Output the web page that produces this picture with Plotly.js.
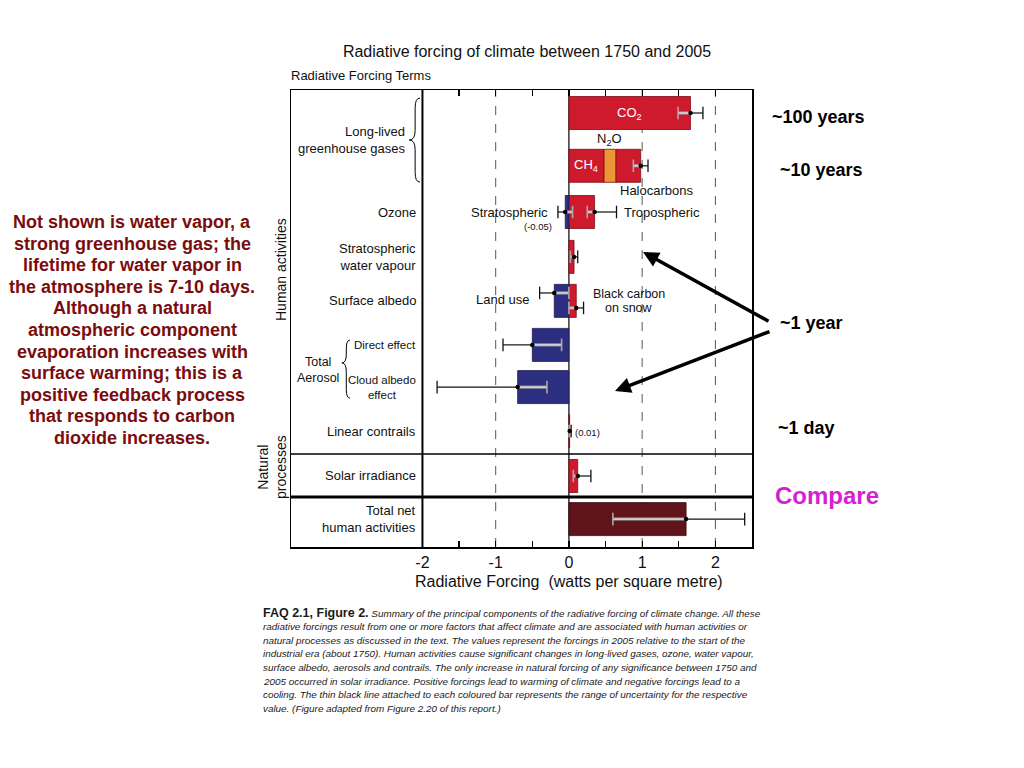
<!DOCTYPE html>
<html><head><meta charset="utf-8">
<script src="https://cdn.plot.ly/plotly-3.0.1.min.js"></script>
<style>html,body{margin:0;padding:0;background:#fff;}#chart{width:1024px;height:768px;}</style>
</head><body><div id="chart"></div>
<script>
// ================= DATA =================
const forcingTerms = ["CO<sub>2</sub>","CH<sub>4</sub>","N<sub>2</sub>O","Halocarbons","Stratospheric ozone","Tropospheric ozone","Stratospheric water vapour","Land use","Black carbon on snow","Aerosol direct effect","Cloud albedo effect","Linear contrails","Solar irradiance","Total net human activities"];
const forcingRow   = [0,1,1,1,2,2,3,4,4,5,6,7,8,9];
const forcingValue = [1.66,0.48,0.16,0.34,-0.05,0.35,0.07,-0.20,0.10,-0.50,-0.70,0.01,0.12,1.60];
const forcingKind  = ["warm","warm","n2o","warm","cool","warm","warm","cool","warm","cool","cool","warm","warm","net"];

const uncTerms = ["CO2","Halocarbons","Stratospheric ozone","Tropospheric ozone","Stratospheric water vapour","Land use","Black carbon on snow","Direct effect","Cloud albedo effect","Linear contrails","Solar irradiance","Total net"];
const uncRow   = [0,1,2,2,3,4,4,5,6,7,8,9];
const uncBest  = [1.66,0.98,-0.05,0.35,0.07,-0.20,0.10,-0.50,-0.70,0.01,0.12,1.60];
const uncLow   = [1.49,0.88,-0.15,0.25,0.02,-0.40,0.00,-0.90,-1.80,0.003,0.06,0.60];
const uncHigh  = [1.83,1.08,0.05,0.65,0.12,0.00,0.20,-0.10,-0.30,0.03,0.30,2.40];

const rowLabels = ["","","Ozone","Stratospheric<br>water vapour","Surface albedo","Direct effect","Cloud albedo<br>effect","Linear contrails","Solar irradiance","Total net<br>human activities"];
const xTickVals = [-2,-1.5,-1,-0.5,0,0.5,1,1.5,2,2.5];
const xTickText = ["-2","","-1","","0","","1","","2",""];

// ================= LAYOUT / STYLE =================
const ROW_Y  = [0,1.2,2.25,3.27,4.27,5.27,6.23,7.23,8.25,9.23];
const UNC_DY = [0,0,0,0,0,-0.18,0.16,0,0,0,0,0];
const ROW_FONT = [13,13,13,13,13,11.5,11.5,13,13,13];
const COL = {warm:'#cf1a2e', n2o:'#ec9533', cool:'#2c2f7f', net:'#5f141a'};
const OUT = {warm:'#7a0d16', n2o:'#7a0d16', cool:'#1a1c50', net:'#3a0a0e'};
const FONT = 'Liberation Sans, Arial, Helvetica, sans-serif';
const L=291, R=752, T=90, B=547;
function P(xp, yp){ return {x:(xp-L)/(R-L), y:(B-yp)/(B-T), xref:'paper', yref:'paper'}; }

// stacking bases
const posSum={}, negSum={};
const bases = forcingValue.map((v,i)=>{
  const r=forcingRow[i];
  if(v>=0){const b=posSum[r]||0; posSum[r]=b+v; return b;}
  const b=negSum[r]||0; negSum[r]=b+v; return b;
});

const traces = [];
["warm","n2o","cool","net"].forEach(k=>{
  const idx = forcingKind.map((kk,i)=>kk===k?i:-1).filter(i=>i>=0);
  traces.push({type:'bar', orientation:'h',
    x: idx.map(i=>forcingValue[i]), base: idx.map(i=>bases[i]),
    y: idx.map(i=>ROW_Y[forcingRow[i]]), text: idx.map(i=>forcingTerms[i]),
    width:0.75, marker:{color:COL[k], line:{color:OUT[k], width:0.8}},
    hoverinfo:'text+x', textposition:'none', showlegend:false});
});

// uncertainty ranges
const inn={x:[],y:[]}, out={x:[],y:[]}, capI={x:[],y:[]}, capO={x:[],y:[]}, dot={x:[],y:[]};
uncBest.forEach((b,i)=>{
  const yy = ROW_Y[uncRow[i]] + UNC_DY[i];
  const lo=uncLow[i], hi=uncHigh[i];
  let a1,a2,o1,o2,ci,co;
  if(b>=0){a1=lo;a2=b;o1=b;o2=hi;ci=lo;co=hi;} else {a1=b;a2=hi;o1=lo;o2=b;ci=hi;co=lo;}
  inn.x.push(a1,a2,null); inn.y.push(yy,yy,null);
  out.x.push(o1,o2,null); out.y.push(yy,yy,null);
  capI.x.push(ci); capI.y.push(yy);
  capO.x.push(co); capO.y.push(yy);
  dot.x.push(b); dot.y.push(yy);
});
traces.push({type:'scatter', mode:'lines', x:inn.x, y:inn.y, line:{color:'#a9a9a9', width:3}, hoverinfo:'skip', showlegend:false});
traces.push({type:'scatter', mode:'lines', x:inn.x, y:inn.y, line:{color:'#e6e6e6', width:1}, hoverinfo:'skip', showlegend:false});
traces.push({type:'scatter', mode:'markers', x:capI.x, y:capI.y, marker:{symbol:'line-ns', size:9, line:{color:'#a9a9a9', width:1.6}}, hoverinfo:'skip', showlegend:false});
traces.push({type:'scatter', mode:'lines', x:out.x, y:out.y, line:{color:'#111', width:1.2}, hoverinfo:'skip', showlegend:false});
traces.push({type:'scatter', mode:'markers', x:capO.x, y:capO.y, marker:{symbol:'line-ns', size:9, line:{color:'#111', width:1.3}}, hoverinfo:'skip', showlegend:false});
traces.push({type:'scatter', mode:'markers', x:dot.x, y:dot.y, text:uncTerms, marker:{symbol:'circle', size:4.5, color:'#000'}, hoverinfo:'text+x', showlegend:false});

// shapes
function brace(xr,xm,xl,yt,yc,yb,r){
  return {type:'path', xref:'x', yref:'y', line:{color:'#000', width:1},
    path:`M ${xr},${yt} Q ${xm},${yt} ${xm},${yt+r} L ${xm},${yc-r} Q ${xm},${yc} ${xl},${yc} Q ${xm},${yc} ${xm},${yc+r} L ${xm},${yb-r} Q ${xm},${yb} ${xr},${yb}`};
}
const shapes = [];
[-1,1,2].forEach(v=>shapes.push({type:'line', layer:'below', xref:'x', yref:'paper', x0:v, x1:v, y0:0, y1:1, line:{color:'#555', width:1, dash:'dash'}}));
shapes.push({type:'line', layer:'below', xref:'x', yref:'paper', x0:0, x1:0, y0:0, y1:1, line:{color:'#000', width:1.2}});
shapes.push({type:'line', xref:'x', yref:'paper', x0:-2, x1:-2, y0:0, y1:1, line:{color:'#000', width:2}});
shapes.push({type:'line', xref:'paper', yref:'y', x0:0, x1:1, y0:7.75, y1:7.75, line:{color:'#000', width:1.3}});
shapes.push({type:'line', xref:'paper', yref:'y', x0:0, x1:1, y0:8.727, y1:8.727, line:{color:'#000', width:3}});
shapes.push(brace(-2.034,-2.10,-2.18,-0.34,0.614,1.57,0.22));
shapes.push(brace(-2.99,-3.04,-3.10,5.16,5.68,6.48,0.2));

// annotations
const ann = [];
function txt(o){ return Object.assign({showarrow:false, xanchor:'center', yanchor:'middle', font:{family:FONT, size:13, color:'#111'}}, o); }
rowLabels.forEach((t,i)=>{ if(t) ann.push(txt({text:t, x:-2.065, y:ROW_Y[i], xref:'x', yref:'y', xanchor:'right', align:(i===6?'center':'right'), font:{family:FONT, size:ROW_FONT[i], color:'#111'}})); });
ann.push(txt({text:'Long-lived<br>greenhouse gases', x:-2.21, y:0.614, xref:'x', yref:'y', xanchor:'right', align:'right'}));
ann.push(txt({text:'Total<br>Aerosol', x:-3.43, y:5.83, xref:'x', yref:'y', align:'center', font:{family:FONT, size:12.5, color:'#111'}}));
// in-plot labels
ann.push(txt({text:'CO<sub>2</sub>', x:forcingValue[0]/2, y:ROW_Y[0], xref:'x', yref:'y', font:{family:FONT,size:13,color:'#fff'}}));
ann.push(txt({text:'CH<sub>4</sub>', x:forcingValue[1]/2, y:ROW_Y[1], xref:'x', yref:'y', font:{family:FONT,size:13,color:'#fff'}}));
ann.push(txt({text:'N<sub>2</sub>O', x:bases[2]+forcingValue[2]/2, y:0.61, xref:'x', yref:'y'}));
ann.push(txt({text:'Halocarbons', x:1.2, y:1.77, xref:'x', yref:'y'}));
ann.push(txt({text:'Stratospheric', x:-0.26, y:ROW_Y[2], xref:'x', yref:'y', xanchor:'right'}));
ann.push(txt({text:'(-0.05)', x:-0.42, y:2.57, xref:'x', yref:'y', font:{family:FONT,size:9.5,color:'#111'}}));
ann.push(txt({text:'Tropospheric', x:0.72, y:ROW_Y[2], xref:'x', yref:'y', xanchor:'left'}));
ann.push(txt({text:'Land use', x:-0.9, y:4.23, xref:'x', yref:'y'}));
ann.push(txt({text:'Black carbon', x:0.82, y:4.11, xref:'x', yref:'y', font:{family:FONT,size:12.5,color:'#111'}}));
ann.push(txt({text:'on snow', x:0.82, y:4.43, xref:'x', yref:'y', font:{family:FONT,size:12.5,color:'#111'}}));
ann.push(txt({text:'(0.01)', x:0.06, y:7.27, xref:'x', yref:'y', xanchor:'left', font:{family:FONT,size:9.5,color:'#111'}}));
// header & axis title
ann.push(txt(Object.assign(P(289,75), {text:'Radiative Forcing Terms', xanchor:'left'})));
ann.push(txt({text:'Radiative Forcing \u00a0(watts per square metre)', x:0, y:P(0,581).y, xref:'x', yref:'paper', font:{family:FONT,size:16,color:'#111'}}));
// side labels
ann.push(txt(Object.assign(P(281,270), {text:'Human activities', textangle:-90, font:{family:FONT,size:14,color:'#111'}})));
ann.push(txt(Object.assign(P(272,467), {text:'Natural<br>processes', textangle:-90, font:{family:FONT,size:14,color:'#111'}})));
// right-side notes
const BF = {family:FONT, size:18, color:'#000'};
ann.push(txt(Object.assign(P(770,117), {text:'<b>~100 years</b>', xanchor:'left', font:BF})));
ann.push(txt(Object.assign(P(778,170), {text:'<b>~10 years</b>', xanchor:'left', font:BF})));
ann.push(txt(Object.assign(P(778,323), {text:'<b>~1 year</b>', xanchor:'left', font:BF})));
ann.push(txt(Object.assign(P(776,428), {text:'<b>~1 day</b>', xanchor:'left', font:BF})));
ann.push(txt(Object.assign(P(773,495), {text:'<b>Compare</b>', xanchor:'left', font:{family:FONT,size:24,color:'#d41fd4'}})));
// arrows
ann.push(Object.assign(P(643,252), {text:'', showarrow:true, arrowhead:2, arrowsize:0.9, arrowwidth:3.5, arrowcolor:'#000', ax:127, ay:70}));
ann.push(Object.assign(P(615,391), {text:'', showarrow:true, arrowhead:2, arrowsize:0.9, arrowwidth:3.5, arrowcolor:'#000', ax:156, ay:-60}));
// left paragraph
const para = ["Not shown is water vapor, a","strong greenhouse gas; the","lifetime for water vapor in","the atmosphere is 7-10 days.","Although a natural","atmospheric component","evaporation increases with","surface warming; this is a","positive feedback process","that responds to carbon","dioxide increases."];
para.forEach((t,i)=>ann.push(txt(Object.assign(P(132,222+21.6*i), {text:'<b>'+t+'</b>', font:{family:FONT,size:18,color:'#7a0c0c'}}))));
// caption
const cap = ["<span style=\"font-size:12.5px\"><b>FAQ 2.1, Figure 2.</b></span> <i>Summary of the principal components of the radiative forcing of climate change. All these</i>",
"<i>radiative forcings result from one or more factors that affect climate and are associated with human activities or</i>",
"<i>natural processes as discussed in the text. The values represent the forcings in 2005 relative to the start of the</i>",
"<i>industrial era (about 1750). Human activities cause significant changes in long-lived gases, ozone, water vapour,</i>",
"<i>surface albedo, aerosols and contrails. The only increase in natural forcing of any significance between 1750 and</i>",
"<i>2005 occurred in solar irradiance. Positive forcings lead to warming of climate and negative forcings lead to a</i>",
"<i>cooling. The thin black line attached to each coloured bar represents the range of uncertainty for the respective</i>",
"<i>value. (Figure adapted from Figure 2.20 of this report.)</i>"];
cap.forEach((t,i)=>ann.push(txt(Object.assign(P(261,613+13.6*i), {text:t, xanchor:'left', font:{family:FONT, size:9.9, color:'#1a1a1a'}}))));

const layout = {
  width:1024, height:768, autosize:false,
  margin:{l:L, r:1024-R, t:T, b:768-B, pad:0},
  paper_bgcolor:'#fff', plot_bgcolor:'#fff', showlegend:false, barmode:'overlay',
  font:{family:FONT, color:'#111'},
  title:{text:'Radiative forcing of climate between 1750 and 2005', x:527/1024, xref:'container', xanchor:'center', y:1-51/768, yref:'container', yanchor:'middle', font:{family:FONT, size:16, color:'#111'}},
  xaxis:{range:[-3.795,2.5], tickvals:xTickVals, ticktext:xTickText, ticks:'inside', ticklen:6, tickwidth:1.2, tickcolor:'#000',
    showline:true, linecolor:'#000', linewidth:1.5, mirror:'ticks', showgrid:false, zeroline:false,
    tickfont:{family:FONT, size:16, color:'#111'}, fixedrange:true},
  yaxis:{range:[9.864,-0.523], showticklabels:false, ticks:'', showline:true, linecolor:'#000', linewidth:1.5, mirror:true,
    showgrid:false, zeroline:false, fixedrange:true},
  shapes:shapes, annotations:ann
};
Plotly.newPlot('chart', traces, layout, {displayModeBar:false, staticPlot:true});
</script></body></html>
